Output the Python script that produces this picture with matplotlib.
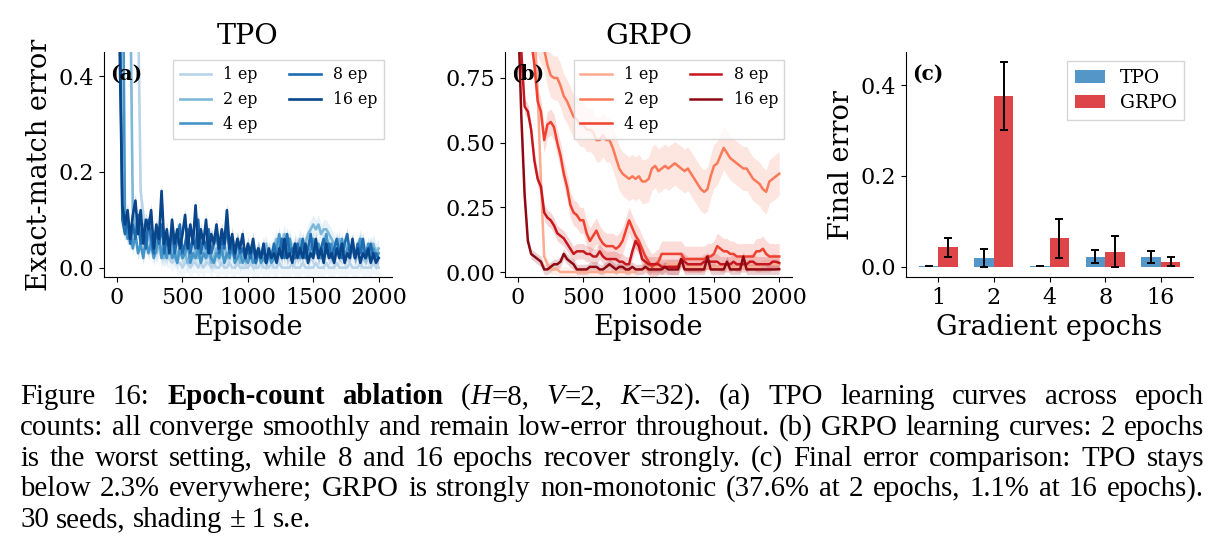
import re
import matplotlib
matplotlib.use('Agg')
import matplotlib.pyplot as plt
import numpy as np

plt.rcParams['font.family'] = 'DejaVu Serif'

EPOCHS = ['1', '2', '4', '8', '16']
EP_LABELS = ['1 ep', '2 ep', '4 ep', '8 ep', '16 ep']

# TPO learning curves, one reading every 20 episodes
TPO_EPISODES = np.arange(0, 2001, 20)
TPO_1 = [0.95, 0.95, 0.95, 0.95, 0.95, 0.95, 0.95, 0.90, 0.55, 0.16,
         0.11, 0.08, 0.06, 0.05, 0.06, 0.03, 0.04, 0.02, 0.03, 0.02,
         0.02, 0.01, 0.02, 0.01, 0.01, 0.00, 0.01, 0.01, 0.00, 0.01,
         0.01, 0.00, 0.01, 0.00, 0.01, 0.01, 0.00, 0.01, 0.00, 0.00,
         0.01, 0.00, 0.00, 0.01, 0.00, 0.00, 0.01, 0.00, 0.00, 0.00,
         0.00, 0.01, 0.00, 0.00, 0.00, 0.01, 0.00, 0.00, 0.00, 0.01,
         0.00, 0.00, 0.01, 0.00, 0.00, 0.00, 0.00, 0.01, 0.00, 0.00,
         0.00, 0.01, 0.00, 0.00, 0.00, 0.00, 0.01, 0.00, 0.00, 0.00,
         0.01, 0.00, 0.00, 0.00, 0.01, 0.00, 0.00, 0.00, 0.00, 0.01,
         0.00, 0.00, 0.00, 0.01, 0.00, 0.00, 0.00, 0.00, 0.01, 0.00,
         0.00]
TPO_2 = [0.95, 0.95, 0.95, 0.95, 0.90, 0.60, 0.12, 0.08, 0.10, 0.06,
         0.09, 0.05, 0.07, 0.04, 0.06, 0.03, 0.05, 0.04, 0.02, 0.04,
         0.03, 0.05, 0.02, 0.03, 0.04, 0.02, 0.03, 0.01, 0.03, 0.02,
         0.04, 0.02, 0.03, 0.05, 0.02, 0.03, 0.01, 0.02, 0.04, 0.02,
         0.03, 0.05, 0.02, 0.04, 0.03, 0.02, 0.04, 0.01, 0.03, 0.02,
         0.02, 0.03, 0.01, 0.02, 0.04, 0.02, 0.03, 0.05, 0.02, 0.03,
         0.04, 0.06, 0.03, 0.05, 0.07, 0.04, 0.06, 0.03, 0.05, 0.04,
         0.06, 0.04, 0.05, 0.07, 0.08, 0.09, 0.08, 0.09, 0.07, 0.08,
         0.08, 0.07, 0.06, 0.05, 0.04, 0.06, 0.03, 0.05, 0.04, 0.03,
         0.05, 0.03, 0.04, 0.06, 0.03, 0.04, 0.02, 0.03, 0.05, 0.03,
         0.04]
TPO_4 = [0.95, 0.95, 0.80, 0.10, 0.06, 0.08, 0.04, 0.07, 0.03, 0.05,
         0.02, 0.06, 0.03, 0.05, 0.02, 0.04, 0.07, 0.02, 0.04, 0.02,
         0.05, 0.02, 0.03, 0.01, 0.04, 0.02, 0.03, 0.05, 0.01, 0.03,
         0.02, 0.04, 0.01, 0.03, 0.02, 0.05, 0.02, 0.01, 0.03, 0.02,
         0.04, 0.01, 0.03, 0.02, 0.05, 0.01, 0.02, 0.03, 0.01, 0.02,
         0.01, 0.03, 0.01, 0.02, 0.04, 0.01, 0.02, 0.01, 0.03, 0.01,
         0.02, 0.04, 0.07, 0.03, 0.05, 0.02, 0.06, 0.03, 0.02, 0.04,
         0.02, 0.05, 0.03, 0.02, 0.04, 0.06, 0.03, 0.05, 0.02, 0.04,
         0.07, 0.03, 0.05, 0.02, 0.04, 0.03, 0.06, 0.02, 0.04, 0.03,
         0.05, 0.02, 0.04, 0.06, 0.03, 0.02, 0.05, 0.03, 0.04, 0.02,
         0.03]
TPO_8 = [0.95, 0.60, 0.10, 0.07, 0.10, 0.05, 0.09, 0.06, 0.11, 0.05,
         0.08, 0.04, 0.10, 0.06, 0.03, 0.08, 0.05, 0.09, 0.03, 0.06,
         0.04, 0.08, 0.03, 0.06, 0.09, 0.03, 0.05, 0.08, 0.03, 0.06,
         0.04, 0.10, 0.03, 0.06, 0.04, 0.08, 0.03, 0.05, 0.07, 0.03,
         0.06, 0.04, 0.09, 0.03, 0.05, 0.02, 0.06, 0.03, 0.04, 0.02,
         0.04, 0.02, 0.05, 0.01, 0.03, 0.02, 0.04, 0.01, 0.03, 0.02,
         0.05, 0.02, 0.03, 0.06, 0.02, 0.07, 0.03, 0.04, 0.02, 0.05,
         0.03, 0.06, 0.02, 0.04, 0.07, 0.03, 0.05, 0.02, 0.04, 0.06,
         0.03, 0.05, 0.02, 0.04, 0.06, 0.03, 0.02, 0.05, 0.07, 0.03,
         0.04, 0.02, 0.05, 0.03, 0.06, 0.02, 0.03, 0.05, 0.02, 0.03,
         0.02]
TPO_16 = [0.95, 0.45, 0.13, 0.09, 0.12, 0.06, 0.11, 0.14, 0.07, 0.12,
          0.05, 0.10, 0.08, 0.12, 0.04, 0.09, 0.06, 0.16, 0.05, 0.08,
          0.03, 0.10, 0.05, 0.08, 0.04, 0.07, 0.11, 0.04, 0.09, 0.05,
          0.13, 0.04, 0.08, 0.05, 0.10, 0.03, 0.07, 0.05, 0.09, 0.04,
          0.08, 0.05, 0.12, 0.04, 0.07, 0.03, 0.06, 0.04, 0.07, 0.02,
          0.05, 0.03, 0.06, 0.02, 0.04, 0.02, 0.05, 0.01, 0.04, 0.02,
          0.03, 0.01, 0.04, 0.02, 0.06, 0.02, 0.03, 0.01, 0.05, 0.02,
          0.04, 0.02, 0.05, 0.01, 0.03, 0.02, 0.06, 0.02, 0.04, 0.01,
          0.05, 0.02, 0.03, 0.01, 0.04, 0.02, 0.05, 0.01, 0.03, 0.02,
          0.06, 0.02, 0.04, 0.01, 0.03, 0.02, 0.04, 0.01, 0.03, 0.01,
          0.02]
TPO_CURVES = [TPO_1, TPO_2, TPO_4, TPO_8, TPO_16]
TPO_SE = [0.02, 0.02, 0.015, 0.015, 0.015]

# GRPO learning curves, one reading every 25 episodes
GRPO_EPISODES = np.arange(0, 2001, 25)
GRPO_1 = [1.00, 1.00, 1.00, 1.00, 1.00, 0.95, 0.70, 0.35, 0.06, 0.03,
          0.01, 0.01, 0.01, 0.00, 0.00, 0.00, 0.00, 0.00, 0.00, 0.00,
          0.00, 0.00, 0.00, 0.00, 0.00, 0.00, 0.00, 0.00, 0.00, 0.00,
          0.00, 0.00, 0.00, 0.00, 0.00, 0.00, 0.00, 0.01, 0.01, 0.01,
          0.01, 0.02, 0.02, 0.02, 0.02, 0.02, 0.03, 0.03, 0.03, 0.03,
          0.03, 0.02, 0.02, 0.02, 0.02, 0.02, 0.02, 0.02, 0.02, 0.02,
          0.02, 0.02, 0.02, 0.02, 0.02, 0.02, 0.02, 0.02, 0.02, 0.02,
          0.02, 0.02, 0.02, 0.02, 0.02, 0.03, 0.03, 0.03, 0.03, 0.03,
          0.03]
GRPO_2 = [1.00, 1.00, 0.99, 0.98, 0.97, 0.95, 0.92, 0.89, 0.86, 0.80,
          0.76, 0.75, 0.75, 0.72, 0.68, 0.66, 0.63, 0.60, 0.59, 0.57,
          0.57, 0.55, 0.55, 0.54, 0.51, 0.51, 0.53, 0.51, 0.51, 0.48,
          0.44, 0.40, 0.38, 0.37, 0.36, 0.37, 0.36, 0.37, 0.35, 0.35,
          0.36, 0.40, 0.41, 0.39, 0.40, 0.41, 0.40, 0.41, 0.42, 0.41,
          0.40, 0.39, 0.40, 0.38, 0.36, 0.34, 0.32, 0.31, 0.32, 0.37,
          0.41, 0.42, 0.45, 0.48, 0.46, 0.44, 0.43, 0.42, 0.41, 0.40,
          0.40, 0.38, 0.36, 0.35, 0.34, 0.32, 0.31, 0.35, 0.36, 0.37,
          0.38]
GRPO_4 = [1.00, 1.00, 0.98, 0.95, 0.90, 0.80, 0.66, 0.62, 0.51, 0.57,
          0.58, 0.56, 0.50, 0.45, 0.38, 0.33, 0.26, 0.23, 0.22, 0.20,
          0.20, 0.15, 0.12, 0.14, 0.16, 0.13, 0.11, 0.10, 0.10, 0.10,
          0.09, 0.10, 0.12, 0.16, 0.20, 0.17, 0.14, 0.12, 0.09, 0.06,
          0.04, 0.02, 0.03, 0.04, 0.07, 0.07, 0.07, 0.07, 0.07, 0.07,
          0.07, 0.05, 0.05, 0.05, 0.05, 0.05, 0.05, 0.05, 0.06, 0.06,
          0.07, 0.10, 0.09, 0.08, 0.08, 0.07, 0.07, 0.06, 0.06, 0.06,
          0.06, 0.06, 0.06, 0.08, 0.08, 0.09, 0.07, 0.06, 0.06, 0.06,
          0.06]
GRPO_8 = [1.00, 0.85, 0.64, 0.62, 0.55, 0.43, 0.36, 0.33, 0.23, 0.21,
          0.20, 0.18, 0.15, 0.14, 0.13, 0.11, 0.09, 0.07, 0.08, 0.08,
          0.08, 0.07, 0.07, 0.06, 0.06, 0.08, 0.06, 0.05, 0.05, 0.05,
          0.05, 0.04, 0.04, 0.03, 0.03, 0.08, 0.12, 0.10, 0.05, 0.04,
          0.03, 0.03, 0.03, 0.03, 0.02, 0.02, 0.02, 0.02, 0.02, 0.02,
          0.05, 0.04, 0.03, 0.03, 0.03, 0.03, 0.03, 0.04, 0.04, 0.04,
          0.04, 0.04, 0.03, 0.03, 0.03, 0.03, 0.04, 0.03, 0.03, 0.03,
          0.03, 0.04, 0.04, 0.03, 0.03, 0.03, 0.03, 0.03, 0.04, 0.04,
          0.035]
GRPO_16 = [1.00, 0.60, 0.30, 0.12, 0.07, 0.06, 0.05, 0.04, 0.01, 0.01,
           0.02, 0.03, 0.03, 0.04, 0.07, 0.05, 0.04, 0.03, 0.01, 0.01,
           0.01, 0.01, 0.02, 0.02, 0.02, 0.01, 0.01, 0.02, 0.03, 0.02,
           0.01, 0.02, 0.02, 0.01, 0.01, 0.02, 0.01, 0.01, 0.01, 0.02,
           0.01, 0.01, 0.01, 0.01, 0.01, 0.02, 0.01, 0.01, 0.01, 0.01,
           0.05, 0.01, 0.01, 0.01, 0.01, 0.01, 0.01, 0.01, 0.06, 0.01,
           0.01, 0.01, 0.01, 0.01, 0.04, 0.01, 0.01, 0.01, 0.01, 0.06,
           0.01, 0.01, 0.01, 0.01, 0.01, 0.01, 0.01, 0.01, 0.01, 0.01,
           0.011]
GRPO_CURVES = [GRPO_1, GRPO_2, GRPO_4, GRPO_8, GRPO_16]
GRPO_SE = [0.02, 0.085, 0.05, 0.03, 0.02]

# final error per epoch count
TPO_FINAL = [0.001, 0.019, 0.001, 0.022, 0.021]
TPO_FINAL_SE = [0.0005, 0.019, 0.0005, 0.015, 0.014]
GRPO_FINAL = [0.042, 0.376, 0.062, 0.033, 0.011]
GRPO_FINAL_SE = [0.021, 0.075, 0.044, 0.034, 0.010]

CAPTION = [
    'Figure 16: **Epoch-count** **ablation** (_H_=8, _V_=2, _K_=32). (a) TPO learning curves across epoch',
    'counts: all converge smoothly and remain low-error throughout. (b) GRPO learning curves: 2 epochs',
    'is the worst setting, while 8 and 16 epochs recover strongly. (c) Final error comparison: TPO stays',
    'below 2.3% everywhere; GRPO is strongly non-monotonic (37.6% at 2 epochs, 1.1% at 16 epochs).',
    '30 seeds, shading \u00b1\u20091 s.e.',
]

blues = plt.cm.Blues(np.linspace(0.3, 0.92, 5))
reds = plt.cm.Reds(np.linspace(0.3, 0.92, 5))

fig = plt.figure(figsize=(12.24, 5.6), dpi=100)
ax_a = fig.add_axes([0.085, 0.505, 0.235, 0.402])
ax_b = fig.add_axes([0.4126, 0.505, 0.2347, 0.402])
ax_c = fig.add_axes([0.740, 0.505, 0.235, 0.402])


def draw_curves(ax, episodes, curves, ses, colours, lw):
    for curve, se, colour, label in zip(curves, ses, colours, EP_LABELS):
        y = np.array(curve)
        ax.fill_between(episodes, y - se, y + se, color=colour, alpha=0.18, lw=0)
        ax.plot(episodes, y, color=colour, lw=lw, label=label)
    ax.set_xticks([0, 500, 1000, 1500, 2000])
    ax.set_xlim(-100, 2100)
    ax.set_xlabel('Episode', fontsize=19.5)
    ax.legend(ncol=2, loc='upper right', fontsize=11.3, fancybox=False)


draw_curves(ax_a, TPO_EPISODES, TPO_CURVES, TPO_SE, blues, 1.9)
ax_a.set_ylim(-0.02, 0.45)
ax_a.set_yticks([0.0, 0.2, 0.4])
ax_a.set_title('TPO', fontsize=20.5)
ax_a.set_ylabel('Exact-match error', fontsize=19.5)

draw_curves(ax_b, GRPO_EPISODES, GRPO_CURVES, GRPO_SE, reds, 1.8)
ax_b.set_ylim(-0.02, 0.85)
ax_b.set_yticks([0.0, 0.25, 0.5, 0.75])
ax_b.yaxis.set_major_formatter(matplotlib.ticker.FormatStrFormatter('%.2f'))
ax_b.set_title('GRPO', fontsize=20.5)

x = np.arange(len(EPOCHS))
w = 0.35
err_kw = dict(elinewidth=1.4, capthick=1.4, ecolor='black')
ax_c.bar(x - w / 2, TPO_FINAL, w, yerr=TPO_FINAL_SE, color='#5496c8', capsize=3,
         error_kw=err_kw, label='TPO')
ax_c.bar(x + w / 2, GRPO_FINAL, w, yerr=GRPO_FINAL_SE, color='#de4548', capsize=3,
         error_kw=err_kw, label='GRPO')
ax_c.set_xticks(x)
ax_c.set_xticklabels(EPOCHS)
ax_c.set_yticks([0.0, 0.2, 0.4])
ax_c.set_xlabel('Gradient epochs', fontsize=19.5)
ax_c.set_ylabel('Final error', fontsize=19.5)
ax_c.legend(loc='upper right', fontsize=13.5, fancybox=False, handlelength=1.6,
            labelspacing=0.4)

for ax, tag in zip([ax_a, ax_b, ax_c], ['(a)', '(b)', '(c)']):
    ax.spines['top'].set_visible(False)
    ax.spines['right'].set_visible(False)
    ax.tick_params(labelsize=16)
    ax.text(0.022, 0.905, tag, transform=ax.transAxes, fontsize=14.5,
            fontweight='bold', va='center', ha='left')

# caption, justified line by line like the LaTeX original
W_PX = 1224.0
H_PX = 560.0
CAP_SIZE = 20.8
CAP_FONT = 'Liberation Serif'
LEFT_PX, RIGHT_PX = 20.0, 1204.0
BASELINES = [404, 435, 466, 496, 527]

renderer = fig.canvas.get_renderer()


def split_word(word):
    pieces = []
    for part in re.split(r'(\*\*[^*]+\*\*|_[^_]+_)', word):
        if not part:
            continue
        if part.startswith('**'):
            pieces.append((part[2:-2], 'bold', 'normal'))
        elif part.startswith('_'):
            pieces.append((part[1:-1], 'normal', 'italic'))
        else:
            pieces.append((part, 'normal', 'normal'))
    return pieces


for i, line in enumerate(CAPTION):
    y = 1 - BASELINES[i] / H_PX
    words = []
    for word in line.split(' '):
        texts = []
        for s, weight, style in split_word(word):
            t = fig.text(0, y, s, fontsize=CAP_SIZE, family=[CAP_FONT, 'DejaVu Serif'],
                         weight=weight, style=style, va='baseline', ha='left')
            texts.append((t, t.get_window_extent(renderer).width))
        words.append(texts)
    total = sum(wd for texts in words for _, wd in texts)
    last = i == len(CAPTION) - 1
    if last:
        gap = 0.25 * CAP_SIZE * 100 / 72
    else:
        gap = (RIGHT_PX - LEFT_PX - total) / (len(words) - 1)
    pos = LEFT_PX
    for texts in words:
        for t, wd in texts:
            t.set_x(pos / W_PX)
            pos += wd
        pos += gap

fig.savefig('out.png', dpi=100)
